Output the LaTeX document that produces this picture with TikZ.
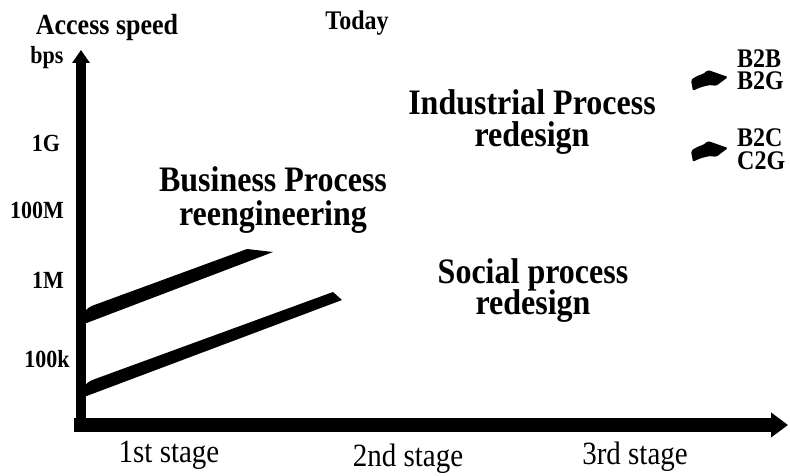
\documentclass[tikz,border=0pt]{standalone}
\usepackage{fontspec}
\setmainfont{Liberation Serif}
\usetikzlibrary{arrows.meta}
\newcommand\tallt[1]{\scalebox{1}[1.12]{#1}}
\newcommand\ctwo[3]{\vtop{\baselineskip=#1\lineskiplimit=-100pt\halign{\hfil##\hfil\cr\tallt{#2}\cr\tallt{#3}\cr}}}
\newcommand\ltwo[3]{\vtop{\baselineskip=#1\lineskiplimit=-100pt\halign{##\hfil\cr\tallt{#2}\cr\tallt{#3}\cr}}}
\begin{document}
\begin{tikzpicture}[x=1pt,y=-1pt,
  axislbl/.style={font=\bfseries\fontsize{22}{22}\selectfont, anchor=base, inner sep=0pt},
  head/.style={font=\bfseries\fontsize{26}{26}\selectfont, anchor=base, inner sep=0pt},
  big/.style={font=\bfseries\fontsize{32}{33}\selectfont, anchor=base, inner sep=0pt},
  code/.style={font=\bfseries\fontsize{24}{24}\selectfont, anchor=base west, inner sep=0pt},
  stage/.style={font=\fontsize{29}{29}\selectfont, anchor=base, inner sep=0pt},
  fatarrow/.pic={\fill[rounded corners=1.5pt] (691,80) .. controls (695,77) and (699,75) .. (703,74) -- (708,70) -- (728,77) -- (716,86) -- (711,85) .. controls (704,86) and (698,88) .. (693,91) -- cycle;}
  ]
\useasboundingbox (0,0) rectangle (790,476);
% axes
\coordinate (O) at (81,432);
\coordinate (ytop) at (81,50);
\coordinate (xo) at (74,425);
\coordinate (xend) at (788,425);
\draw[line width=10pt, -{Triangle[width=17pt,length=13pt]}] (O) -- (ytop);
\draw[line width=14pt, -{Triangle[width=24pt,length=17pt]}] (xo) -- (xend);
% thick bars
\fill (84,324) -- (84,313) .. controls (86,309) and (90,306) .. (97,304) -- (247,249) -- (273,252) -- (260,257) -- cycle;
\fill (84,397) -- (84,388) .. controls (85,384) and (89,381) .. (95,379) -- (333,292) -- (342,300) -- cycle;
% small fat arrows
\pic (arrA) at (0,0) {fatarrow};
\pic (arrB) at (0,71) {fatarrow};
% labels
\node[head] (acc) at (107,35) {\tallt{Access speed}};
\node[head, font=\bfseries\fontsize{24}{24}\selectfont] (today) at (357,30) {\tallt{Today}};
\node[axislbl] (bps) at (47,64) {\tallt{bps}};
\node[axislbl] (g1) at (46,152) {\tallt{1G}};
\node[axislbl] (m100) at (37,218) {\tallt{100M}};
\node[axislbl] (m1) at (48,288) {\tallt{1M}};
\node[axislbl] (k100) at (47,367) {\tallt{100k}};
\node[big] (bpr) at (273,192) {\ctwo{33pt}{Business Process}{reengineering}};
\node[big] (ipr) at (532,115) {\ctwo{32pt}{Industrial Process}{redesign}};
\node[big] (spr) at (533,283) {\ctwo{32pt}{Social process}{redesign}};
\node[code] (b2bg) at (737,68) {\ltwo{22pt}{B2B}{B2G}};
\node[code] (b2cg) at (737,147) {\ltwo{23pt}{B2C}{C2G}};
\node[stage] (s1) at (169,462) {\tallt{1st stage}};
\node[stage] (s2) at (408,466) {\tallt{2nd stage}};
\node[stage] (s3) at (635,464) {\tallt{3rd stage}};
\end{tikzpicture}
\end{document}
